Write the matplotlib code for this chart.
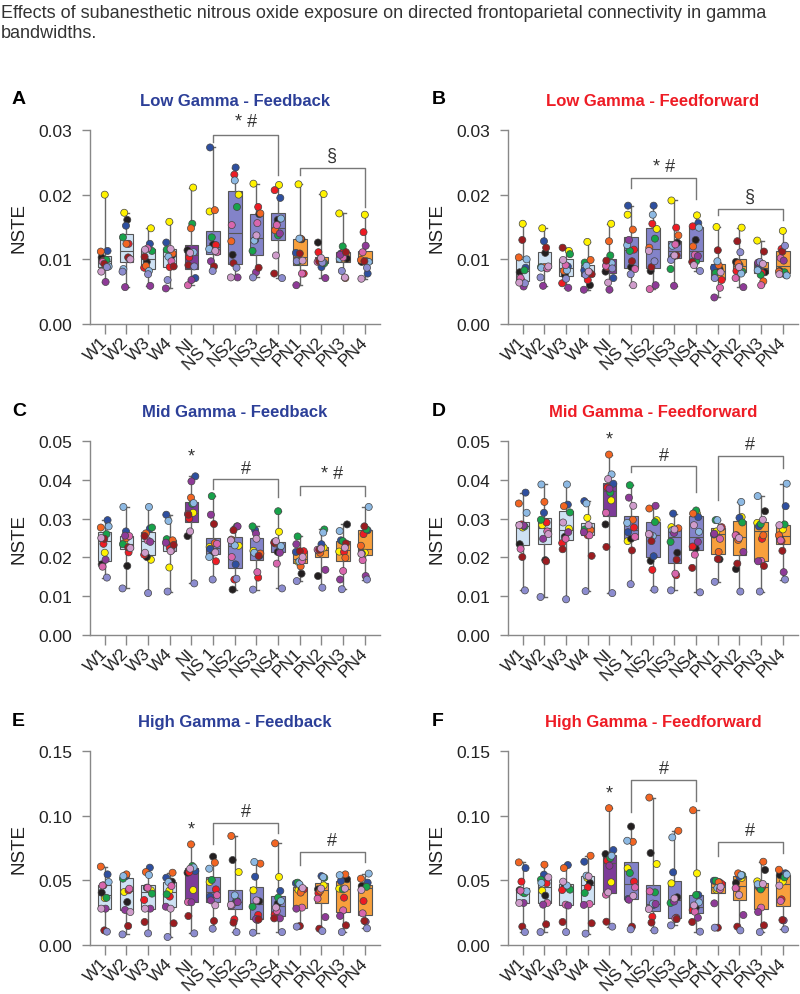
import numpy as np
import matplotlib.pyplot as plt
from matplotlib.ticker import FormatStrFormatter
from matplotlib.transforms import ScaledTranslation

plt.rcParams['font.family'] = ['Liberation Sans', 'DejaVu Sans']

# ---------------------------
# Data
# ---------------------------
groups = ["W1", "W2", "W3", "W4", "NI", "NS 1", "NS2", "NS3", "NS4",
          "PN1", "PN2", "PN3", "PN4"]

# subject order: yellow, black, dark blue, red, green, orange,
# light blue, pink, purple, dark red, lavender, mauve
subject_colors = ["#fff200", "#231f20", "#2e4f9f", "#ed1c24", "#17a24a", "#f26522",
                  "#8db9e3", "#d866ad", "#8e3a97", "#9b1c20", "#8c8ccf", "#cf9ccb"]

box_colors = ["#cfe2f4"] * 4 + ["#7d3c98"] + ["#8383c9"] * 4 + ["#f8a03c"] * 4

low_fb = [
    [.0200, .0103, .0113, .0098, .0099, .0112, .0089, .0096, .0065, .0093, .0088, .0081],
    [.0172, .0161, .0152, .0124, .0134, .0124, .0085, .0101, .0057, .0103, .0081, .0100],
    [.0148, .0096, .0124, .0087, .0113, .0090, .0082, .0117, .0059, .0104, .0077, .0115],
    [.0158, .0106, .0126, .0088, .0115, .0109, .0104, .0097, .0055, .0089, .0068, .0116],
    [.0211, .0114, .0071, .0103, .0155, .0148, .0111, .0060, .0068, .0091, .0089, .0110],
    [.0174, .0123, .0273, .0122, .0134, .0176, .0116, .0111, .0097, .0089, .0082, .0113],
    [.0200, .0107, .0242, .0231, .0181, .0128, .0222, .0153, .0072, .0094, .0087, .0072],
    [.0217, .0170, .0130, .0181, .0113, .0171, .0129, .0156, .0080, .0087, .0072, .0137],
    [.0215, .0161, .0195, .0207, .0137, .0145, .0163, .0153, .0140, .0078, .0071, .0106],
    [.0216, .0131, .0110, .0078, .0096, .0132, .0132, .0078, .0060, .0109, .0097, .0098],
    [.0201, .0126, .0088, .0111, .0094, .0100, .0096, .0096, .0071, .0097, .0095, .0102],
    [.0171, .0101, .0109, .0112, .0120, .0071, .0101, .0103, .0107, .0111, .0082, .0072],
    [.0169, .0096, .0078, .0142, .0097, .0099, .0096, .0111, .0121, .0097, .0087, .0070],
]

low_ff = [
    [.0155, .0080, .0087, .0067, .0083, .0103, .0100, .0071, .0058, .0130, .0063, .0064],
    [.0148, .0110, .0128, .0087, .0088, .0088, .0087, .0086, .0059, .0118, .0072, .0089],
    [.0113, .0076, .0089, .0063, .0108, .0082, .0083, .0091, .0056, .0118, .0070, .0099],
    [.0127, .0060, .0083, .0068, .0095, .0099, .0090, .0080, .0053, .0077, .0076, .0081],
    [.0155, .0081, .0071, .0088, .0106, .0128, .0094, .0090, .0053, .0098, .0086, .0064],
    [.0169, .0088, .0183, .0115, .0113, .0146, .0122, .0085, .0130, .0097, .0077, .0060],
    [.0147, .0082, .0183, .0155, .0132, .0118, .0169, .0054, .0060, .0088, .0097, .0113],
    [.0191, .0126, .0104, .0149, .0085, .0137, .0121, .0123, .0059, .0106, .0099, .0106],
    [.0168, .0130, .0156, .0151, .0097, .0120, .0149, .0107, .0105, .0096, .0082, .0091],
    [.0150, .0085, .0087, .0068, .0079, .0091, .0097, .0056, .0041, .0114, .0071, .0080],
    [.0149, .0096, .0091, .0082, .0081, .0094, .0078, .0071, .0057, .0128, .0111, .0088],
    [.0129, .0080, .0090, .0079, .0076, .0066, .0083, .0060, .0095, .0112, .0096, .0093],
    [.0144, .0082, .0076, .0116, .0080, .0081, .0075, .0102, .0098, .0112, .0121, .0077],
]

mid_fb = [
    [.0212, .0182, .0296, .0235, .0260, .0277, .0280, .0176, .0194, .0248, .0148, .0250],
    [.0237, .0178, .0267, .0213, .0234, .0250, .0330, .0255, .0256, .0226, .0120, .0224],
    [.0194, .0201, .0274, .0207, .0277, .0262, .0330, .0244, .0240, .0255, .0108, .0212],
    [.0174, .0242, .0310, .0224, .0247, .0244, .0294, .0218, .0238, .0232, .0112, .0216],
    [.0315, .0255, .0409, .0300, .0338, .0354, .0340, .0312, .0396, .0310, .0133, .0267],
    [.0227, .0213, .0222, .0190, .0358, .0237, .0201, .0235, .0310, .0286, .0143, .0213],
    [.0230, .0117, .0182, .0143, .0280, .0246, .0231, .0201, .0280, .0270, .0145, .0244],
    [.0217, .0204, .0270, .0148, .0280, .0210, .0212, .0162, .0261, .0204, .0117, .0248],
    [.0266, .0214, .0227, .0240, .0319, .0236, .0229, .0184, .0212, .0238, .0120, .0242],
    [.0188, .0158, .0214, .0216, .0254, .0177, .0190, .0191, .0234, .0216, .0139, .0201],
    [.0225, .0152, .0234, .0218, .0272, .0212, .0264, .0220, .0168, .0220, .0122, .0223],
    [.0215, .0285, .0244, .0214, .0242, .0199, .0268, .0165, .0143, .0236, .0118, .0225],
    [.0212, .0210, .0270, .0260, .0272, .0230, .0330, .0193, .0152, .0280, .0143, .0209],
]

mid_ff = [
    [.0277, .0234, .0367, .0285, .0280, .0339, .0315, .0222, .0282, .0201, .0115, .0283],
    [.0283, .0193, .0315, .0290, .0297, .0343, .0388, .0267, .0248, .0190, .0098, .0260],
    [.0274, .0253, .0336, .0237, .0316, .0332, .0388, .0248, .0265, .0221, .0092, .0290],
    [.0302, .0272, .0345, .0257, .0272, .0270, .0339, .0257, .0265, .0204, .0113, .0283],
    [.0347, .0285, .0390, .0380, .0367, .0465, .0414, .0315, .0377, .0227, .0108, .0402],
    [.0242, .0248, .0265, .0277, .0386, .0297, .0289, .0253, .0354, .0218, .0131, .0333],
    [.0296, .0191, .0203, .0168, .0291, .0326, .0255, .0259, .0333, .0242, .0117, .0260],
    [.0278, .0212, .0313, .0154, .0240, .0275, .0270, .0158, .0263, .0194, .0115, .0272],
    [.0313, .0223, .0304, .0228, .0321, .0313, .0266, .0207, .0240, .0173, .0110, .0283],
    [.0267, .0195, .0259, .0278, .0296, .0214, .0296, .0248, .0261, .0196, .0137, .0276],
    [.0304, .0170, .0302, .0257, .0290, .0245, .0343, .0257, .0214, .0184, .0112, .0250],
    [.0289, .0319, .0280, .0248, .0286, .0257, .0358, .0191, .0190, .0178, .0112, .0297],
    [.0272, .0251, .0332, .0242, .0285, .0257, .0390, .0244, .0162, .0217, .0143, .0283],
]

high_fb = [
    [.0363, .0405, .0546, .0461, .0365, .0606, .0487, .0460, .0281, .0113, .0103, .0281],
    [.0410, .0332, .0533, .0423, .0513, .0546, .0533, .0435, .0271, .0147, .0082, .0255],
    [.0423, .0443, .0598, .0348, .0397, .0564, .0541, .0443, .0281, .0178, .0090, .0281],
    [.0420, .0490, .0520, .0374, .0392, .0559, .0487, .0456, .0296, .0168, .0062, .0281],
    [.0425, .0559, .0572, .0564, .0611, .0778, .0600, .0332, .0330, .0224, .0090, .0590],
    [.0487, .0683, .0374, .0430, .0503, .0637, .0590, .0385, .0345, .0186, .0126, .0307],
    [.0564, .0657, .0332, .0198, .0340, .0843, .0384, .0307, .0332, .0173, .0100, .0310],
    [.0423, .0338, .0528, .0232, .0296, .0629, .0642, .0193, .0200, .0198, .0095, .0345],
    [.0526, .0320, .0418, .0235, .0366, .0786, .0340, .0263, .0206, .0206, .0100, .0290],
    [.0425, .0436, .0477, .0430, .0482, .0405, .0470, .0289, .0281, .0147, .0142, .0440],
    [.0461, .0430, .0533, .0400, .0520, .0420, .0525, .0358, .0216, .0126, .0108, .0436],
    [.0436, .0508, .0495, .0366, .0430, .0546, .0540, .0268, .0225, .0152, .0100, .0436],
    [.0456, .0456, .0482, .0340, .0450, .0513, .0552, .0245, .0180, .0186, .0129, .0425],
]

high_ff = [
    [.0407, .0425, .0595, .0490, .0400, .0639, .0415, .0420, .0325, .0142, .0100, .0325],
    [.0420, .0382, .0544, .0477, .0505, .0621, .0480, .0325, .0312, .0160, .0100, .0523],
    [.0440, .0464, .0618, .0425, .0428, .0595, .0460, .0312, .0305, .0178, .0100, .0490],
    [.0518, .0480, .0644, .0446, .0402, .0690, .0536, .0317, .0310, .0168, .0088, .0530],
    [.0485, .0703, .0734, .0652, .0672, .1058, .0690, .0389, .0613, .0180, .0142, .0407],
    [.0593, .0916, .0356, .0490, .0557, .0798, .0806, .0446, .0350, .0142, .0121, .0380],
    [.0626, .0711, .0310, .0219, .0407, .1140, .0320, .0415, .0317, .0173, .0113, .0278],
    [.0477, .0369, .0562, .0211, .0325, .0883, .0832, .0204, .0336, .0200, .0152, .0360],
    [.0554, .0288, .0387, .0271, .0387, .1042, .0330, .0257, .0211, .0178, .0103, .0306],
    [.0428, .0485, .0497, .0472, .0497, .0485, .0440, .0430, .0322, .0134, .0134, .0450],
    [.0518, .0480, .0528, .0438, .0540, .0554, .0541, .0440, .0232, .0142, .0113, .0387],
    [.0492, .0580, .0446, .0446, .0430, .0644, .0470, .0289, .0255, .0152, .0100, .0472],
    [.0490, .0541, .0554, .0353, .0523, .0582, .0545, .0340, .0190, .0193, .0121, .0459],
]

# significance brackets: (first group, last group, bar y, left leg y, right leg y, label, label y)
brackets_a = [(5, 8, .0292, .0282, .0230, "* #", .0313), (9, 12, .0242, .0230, .0181, "§", .0261)]
brackets_b = [(5, 8, .0226, .0210, .0193, "* #", .0243), (9, 12, .0178, .0169, .0161, "§", .0197)]
brackets_c = [(5, 8, .0401, .0377, .0356, "#", .0429), (9, 12, .0384, .0360, .0358, "* #", .0416)]
brackets_d = [(5, 8, .0435, .0419, .0369, "#", .0463), (9, 12, .0462, .0347, .0431, "#", .0491)]
brackets_e = [(5, 8, .0947, .0780, .0865, "#", .1032), (9, 12, .0722, .0618, .0639, "#", .0806)]
brackets_f = [(5, 8, .1276, .1030, .1114, "#", .1364), (9, 12, .0793, .0690, .0711, "#", .0883)]
ni_star = [None, None, .0462, .0504, .0896, .1179]

jitter = np.array([0.0, -0.14, 0.13, -0.06, 0.08, -0.18, 0.18, -0.10, 0.04, -0.02, 0.10, -0.16])

# ---------------------------
# Figure
# ---------------------------
fig = plt.figure(figsize=(8, 9.95), dpi=100)

fig.text(0.001, 1 - 13 / 995,
         "Effects of subanesthetic nitrous oxide exposure on directed frontoparietal connectivity in gamma",
         fontsize=13, color="#333333", va="center")
fig.text(0.001, 1 - 33 / 995, "bandwidths.", fontsize=13, color="#333333", va="center")

panels = [
    ("A", "Low Gamma - Feedback", "#2c3f98", low_fb, 0.03, 0.01, brackets_a),
    ("B", "Low Gamma - Feedforward", "#ee1c25", low_ff, 0.03, 0.01, brackets_b),
    ("C", "Mid Gamma - Feedback", "#2c3f98", mid_fb, 0.05, 0.01, brackets_c),
    ("D", "Mid Gamma - Feedforward", "#ee1c25", mid_ff, 0.05, 0.01, brackets_d),
    ("E", "High Gamma - Feedback", "#2c3f98", high_fb, 0.15, 0.05, brackets_e),
    ("F", "High Gamma - Feedforward", "#ee1c25", high_ff, 0.15, 0.05, brackets_f),
]

lefts = [90, 508]
bottoms = [325, 636, 946]
pos = np.arange(len(groups))
label_shift = ScaledTranslation(6 / 100, -9 / 100, fig.dpi_scale_trans)

for k, (letter, title, tcolor, data, ytop, ystep, brackets) in enumerate(panels):
    col, row = k % 2, k // 2
    ax = fig.add_axes([lefts[col] / 800, 1 - bottoms[row] / 995, 290 / 800, 194 / 995])

    bp = ax.boxplot(data, positions=pos, widths=0.62, whis=(0, 100), patch_artist=True,
                    showfliers=False, capwidths=0.22,
                    boxprops=dict(edgecolor="#555555", linewidth=0.8),
                    medianprops=dict(color="#555555", linewidth=0.8),
                    whiskerprops=dict(color="#666666", linewidth=1),
                    capprops=dict(color="#666666", linewidth=1))
    for patch, c in zip(bp["boxes"], box_colors):
        patch.set_facecolor(c)

    for i, vals in enumerate(data):
        ax.scatter(i + np.roll(jitter, i * 5), vals, s=26, c=subject_colors,
                   edgecolors="#444444", linewidths=0.5, zorder=3, clip_on=False)

    for g0, g1, yb, yl, yr, label, ty in brackets:
        ax.plot([g0, g0, g1, g1], [yl, yb, yb, yr], color="#777777", lw=1, clip_on=False)
        ax.text((g0 + g1) / 2, ty, label, ha="center", va="center", fontsize=13, color="#333333")
    if ni_star[k] is not None:
        ax.text(4, ni_star[k], "*", ha="center", va="center", fontsize=13, color="#333333")

    ax.set_xlim(-0.68, 12.7)
    ax.set_ylim(0, ytop)
    ax.set_yticks(np.arange(0, ytop + ystep / 2, ystep))
    ax.yaxis.set_major_formatter(FormatStrFormatter("%.2f"))
    ax.set_xticks(pos)
    ax.set_xticklabels(groups, rotation=45, ha="right", va="center", rotation_mode="anchor")
    for lbl in ax.get_xticklabels():
        lbl.set_transform(lbl.get_transform() + label_shift)
    for s in ["top", "right"]:
        ax.spines[s].set_visible(False)
    for s in ["left", "bottom"]:
        ax.spines[s].set_color("#888888")
        ax.spines[s].set_linewidth(1)
    ax.tick_params(axis="y", length=6, width=1, color="#888888", labelsize=12.5,
                   labelcolor="#222222", pad=7)
    ax.tick_params(axis="x", length=7, width=1, color="#888888", labelsize=12.5,
                   labelcolor="#222222", pad=4)
    ax.set_ylabel("NSTE", fontsize=13.5, color="#222222")
    ax.yaxis.set_label_coords(-0.217, 0.5)

    ax.set_title(title, color=tcolor, fontsize=12, fontweight="bold", pad=18)
    fig.text((12 if col == 0 else 432) / 800, 1 - (bottoms[row] - 225) / 995, letter,
             fontsize=14, fontweight="bold", va="center")

plt.savefig("out.png", dpi=100)
